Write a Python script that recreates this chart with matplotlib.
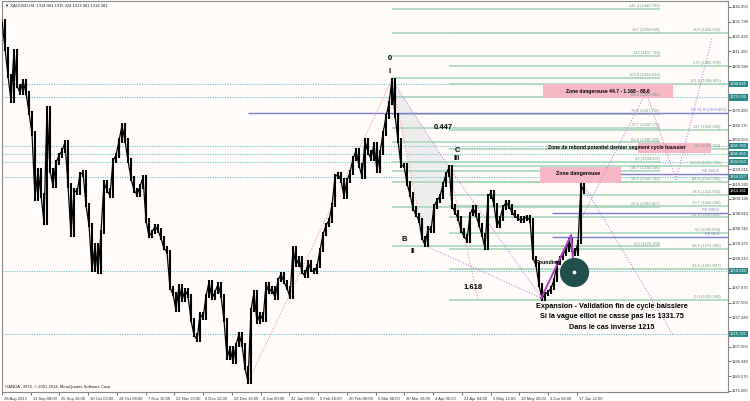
import numpy as np
import matplotlib.pyplot as plt
import matplotlib.transforms as mtransforms
from matplotlib.patches import Rectangle, Polygon

plt.rcParams['font.family'] = ['Liberation Sans', 'DejaVu Sans']

# XAUUSD H4 closes (one value per bar)
closes = [
    1432.2, 1412.9, 1394.3, 1377.1, 1411.6, 1387.4, 1382.6, 1390.9, 1382.6, 1368.8,
    1354.4, 1309.6, 1328.9, 1311.6, 1293.0, 1371.6, 1328.9, 1318.5, 1334.4, 1339.2,
    1342.6, 1348.2, 1318.5, 1284.1, 1315.1, 1313.7, 1326.1, 1327.5, 1304.8, 1291.0,
    1260.0, 1277.2, 1258.6, 1286.2, 1320.6, 1315.1, 1311.6, 1335.8, 1339.2, 1349.5,
    1359.9, 1349.5, 1335.8, 1323.4, 1315.1, 1312.3, 1317.8, 1324.0, 1294.4, 1283.4,
    1286.2, 1290.3, 1287.5, 1282.0, 1275.1, 1272.4, 1247.6, 1243.4, 1232.4, 1248.9,
    1239.3, 1246.2, 1242.1, 1225.5, 1215.2, 1211.7, 1229.7, 1226.9, 1242.1, 1251.7,
    1240.7, 1244.8, 1250.3, 1242.1, 1225.5, 1199.3, 1206.2, 1196.6, 1208.3, 1215.9,
    1208.3, 1192.4, 1182.8, 1232.4, 1244.8, 1224.1, 1229.7, 1225.5, 1250.3, 1244.8,
    1247.6, 1240.7, 1253.1, 1257.2, 1251.7, 1247.6, 1241.4, 1275.1, 1263.4, 1268.2,
    1258.6, 1255.8, 1265.5, 1260.0, 1258.6, 1262.7, 1273.8, 1284.8, 1291.0, 1294.4,
    1304.8, 1324.7, 1326.1, 1322.0, 1311.0, 1322.0, 1327.5, 1337.1, 1342.6, 1332.3,
    1324.7, 1349.5, 1341.3, 1337.1, 1346.8, 1328.9, 1341.3, 1354.4, 1366.1, 1375.7,
    1391.5, 1366.8, 1349.5, 1332.3, 1332.3, 1319.9, 1312.3, 1302.7, 1297.9, 1294.4,
    1282.0, 1277.5, 1288.9, 1287.5, 1304.1, 1308.2, 1311.0, 1319.2, 1326.1, 1331.0,
    1304.1, 1299.9, 1295.8, 1287.5, 1283.4, 1280.6, 1298.6, 1303.4, 1297.9, 1291.0,
    1284.1, 1275.1, 1311.0, 1313.7, 1304.8, 1290.3, 1295.8, 1303.4, 1306.8, 1304.1,
    1299.9, 1297.2, 1295.8, 1294.4, 1295.8, 1296.5, 1294.4, 1268.2, 1263.4, 1249.6,
    1240.5, 1243.4, 1244.8, 1247.6, 1253.1, 1264.8, 1268.2, 1271.0, 1273.8, 1280.6,
    1273.8, 1271.0, 1279.3, 1318.5, 1314.4,
]

date_labels = ["28 Aug 2013", "11 Sep 08:00", "25 Sep 16:00", "10 Oct 00:00", "24 Oct 08:00",
               "7 Nov 16:00", "22 Nov 00:00", "6 Dec 12:00", "22 Dec 16:00", "8 Jan 00:00",
               "22 Jan 08:00", "5 Feb 16:00", "20 Feb 00:00", "6 Mar 08:00", "20 Mar 16:00",
               "4 Apr 00:00", "21 Apr 04:00", "5 May 12:00", "19 May 20:00", "3 Jun 04:00",
               "17 Jun 12:00"]

# right scale, the ones hidden under the coloured price boxes are left out
price_ticks = [1441.855, 1431.790, 1421.420, 1411.355, 1400.985,
               1370.485, 1360.115, 1350.050, 1329.615, 1319.245, 1309.180,
               1298.810, 1288.745, 1278.375, 1268.310, 1247.875, 1237.505,
               1227.440, 1207.005, 1196.940, 1186.570, 1176.505]

# retracement drawn from the March top (I) down to wave II
fibA_pct = ["0.0", "23.6", "38.2", "44.7", "50", "61.8", "70.7", "78.6", "88.6",
            "100.0", "113", "127", "141.4"]
fibA_price = [1276.382, 1303.817, 1320.789, 1328.346, 1334.507, 1348.225, 1358.575,
              1367.755, 1379.380, 1392.632, 1407.745, 1424.020, 1440.760]

# expansion from the June low
fibB_pct = ["0.0", "23.6", "38.2", "50", "61.8", "70.7", "78.6", "88.6", "100.0",
            "113", "127", "161.8", "175", "200"]
fibB_price = [1239.390, 1261.097, 1274.894, 1285.558, 1296.411, 1304.638, 1311.941,
              1321.186, 1331.726, 1343.742, 1356.684, 1388.855, 1400.978, 1424.062]

fe_names = ["FE 61.8", "FE 100.0", "FE 161.8"]
fe_price = [1282.9, 1299.5, 1326.5]

pivot_lines = [1388.821, 1379.330, 1345.760, 1340.465, 1334.550, 1324.227, 1259.320, 1215.725]

last_price = 1314.381

bg = '#fffcfa'
green = '#a9d6bb'
green_txt = '#6f9f80'
blue = '#7a7cd0'
cyan = '#6cc0c6'
salmon = '#f29a8e'
violet = '#cc7ee0'

fig = plt.figure(figsize=(7.5, 4.01), dpi=100, facecolor='white')
ax = fig.add_axes([2 / 750, 9 / 401, 726 / 750, 391 / 401])
ax.set_facecolor(bg)

n = len(closes)
x = np.arange(n)
c = np.array(closes)
ax.set_xlim(0, 242)
ax.set_ylim(1175.8, 1446.0)

# shaded wave triangle
ax.add_patch(Polygon([(130, 1391.5), (149, 1331.0), (141, 1277.5)], closed=True,
                     facecolor='#eeeeee', edgecolor='none', zorder=1))

# pivot lines (dotted, full width)
for p in pivot_lines:
    ax.axhline(p, color=cyan, lw=0.8, ls=(0, (1, 1.2)), zorder=2)

# fib A
for pct, p in zip(fibA_pct, fibA_price):
    ax.hlines(p, 130, 219.3, color=green, lw=1.2, zorder=2)
    ax.text(219.3, p + 0.6, f"{pct} ({p:.3f})", fontsize=3, color=green_txt,
            ha='right', va='bottom', zorder=6)

# fib B
for pct, p in zip(fibB_pct, fibB_price):
    ax.hlines(p, 149, 242, color=green, lw=1.2, zorder=2)
    ax.text(239.5, p + 0.6, f"{pct} ({p:.3f})", fontsize=3, color=green_txt,
            ha='right', va='bottom', zorder=6)

# FE lines
for name, p in zip(fe_names, fe_price):
    ax.hlines(p, 183.3, 242, color=blue, lw=1.0, zorder=3)
    ax.text(239, p + 0.6, name, fontsize=3, color=blue, ha='right', va='bottom', zorder=6)
ax.hlines(1368.6, 82, 242, color=blue, lw=1.0, zorder=3)
ax.text(241.5, 1368.6 + 0.6, "FE 61.8 (1369.850)", fontsize=3, color=blue,
        ha='right', va='bottom', zorder=6)

# candles as bars
lo = np.minimum(c[:-1], c[1:])
hi = np.maximum(c[:-1], c[1:])
ax.vlines(x[1:], lo - 1.5, hi + 1.5, color='black', lw=1.5, zorder=5)
ax.plot(x, c, color='black', lw=0.9, zorder=5)

# wave lines
def dotted(p0, p1, col):
    ax.plot([p0[0], p1[0]], [p0[1], p1[1]], color=col, lw=0.8, ls=(0, (1, 1.5)), zorder=4)

dotted((82, 1182.8), (130, 1391.5), salmon)
dotted((130, 1391.5), (141, 1277.0), salmon)
dotted((149, 1331.0), (158.7, 1239.4), salmon)
dotted((130, 1391.5), (149, 1331.0), violet)
dotted((149, 1331.0), (180, 1240.5), violet)
dotted((141, 1277.0), (180, 1240.5), violet)
dotted((194, 1318.5), (223.7, 1215.2), violet)
# projected path on the right
proj = [(193.7, 1298.1), (214.7, 1383.1), (224.7, 1322.3), (236.7, 1420.4)]
for a, b in zip(proj[:-1], proj[1:]):
    dotted(a, b, violet)

ax.plot([179.7, 189.7, 190.7], [1240.5, 1284.3, 1258.8], color='#b43cc4', lw=1.4, zorder=6)
ax.scatter([190.7], [1258.8], s=400, color='#1f4f4a', zorder=7)
ax.scatter([190.7], [1258.8], s=3, color='white', zorder=8)

# zones
ax.add_patch(Rectangle((180.3, 1379.0), 43.4, 9.7, facecolor='#f6b8c4', edgecolor='none', zorder=3))
ax.text(202, 1383.8, "Zone dangereuse 44.7 - 1.168 - 88.6", fontsize=3.6, weight='bold',
        ha='center', va='center', zorder=7)
ax.add_patch(Rectangle((212, 1341.0), 24.3, 6.9, facecolor='#f6b8c4', edgecolor='none', zorder=3))
ax.text(182, 1345.1, "Zone de rebond potentiel dernier segment cycle haussier", fontsize=3.6,
        weight='bold', ha='left', va='center', zorder=7)
ax.add_patch(Rectangle((179.3, 1320.2), 27, 11.1, facecolor='#f6b8c4', edgecolor='none', zorder=3))
ax.text(192, 1326.5, "Zone dangereuse", fontsize=3.8, weight='bold', ha='center',
        va='center', zorder=7)

# wave labels
for s, bx, py in [("0", 129.3, 1406.6), ("I", 129.3, 1397.6), ("B", 134, 1281.5),
                  ("II", 137, 1273.2), ("C", 151.7, 1343.0), ("III", 151.7, 1337.5),
                  ("0.447", 147, 1358.9), ("1.618", 157, 1247.7)]:
    ax.text(bx, py, s, fontsize=5.5, weight='bold', ha='center', va='center', zorder=7)
ax.text(182, 1265, "Rounding", fontsize=3.8, weight='bold', ha='center', va='center', zorder=7)

for s, py in [("Expansion - Validation fin de cycle baissiere", 1234.6),
              ("Si la vague elliot ne casse pas les 1331.75", 1228.3),
              ("Dans le cas inverse 1215", 1220.7)]:
    ax.text(203.3, py, s, fontsize=5.2, weight='bold', ha='center', va='center', zorder=7)

# axes / ticks
ax.yaxis.tick_right()
ax.set_yticks(price_ticks)
ax.set_yticklabels([f"{v:.3f}" for v in price_ticks])
ax.tick_params(axis='y', labelsize=3, length=2, width=0.5, pad=1, colors='#333333')
tick_x = np.arange(len(date_labels)) * 9.583
ax.set_xticks(tick_x)
ax.set_xticklabels([])
ax.tick_params(axis='x', length=2, width=0.5, colors='#333333')
xt = mtransforms.blended_transform_factory(ax.transData, ax.transAxes)
for tx, lab in zip(tick_x, date_labels):
    ax.text(tx + 0.6, -0.012, lab, transform=xt, fontsize=3, ha='left', va='top',
            color='#333333', clip_on=False)
for sp in ax.spines.values():
    sp.set_color('#888888')
    sp.set_linewidth(0.8)

# highlighted price labels
yt = mtransforms.blended_transform_factory(ax.transAxes, ax.transData)
for p in pivot_lines:
    ax.text(1.003, p, f"{p:.3f}", transform=yt, fontsize=3, color='white', ha='left',
            va='center', clip_on=False, zorder=9,
            bbox=dict(boxstyle='square,pad=0.25', facecolor='#2d8a8a', edgecolor='none'))
ax.text(1.003, last_price, f"{last_price:.3f}", transform=yt, fontsize=3, color='white',
        ha='left', va='center', clip_on=False, zorder=9,
        bbox=dict(boxstyle='square,pad=0.25', facecolor='black', edgecolor='none'))

ax.text(0.004, 0.993, "\u25bc XAUUSD,H4  1314.001 1315.324 1313.941 1314.381", transform=ax.transAxes,
        fontsize=3, ha='left', va='top', color='#222222')
ax.text(0.004, 0.008, "OANDA - MT4, \u00a9 2001-2014, MetaQuotes Software Corp.", transform=ax.transAxes,
        fontsize=3, ha='left', va='bottom', color='#222222')

fig.savefig('out.png', dpi=100, facecolor='white')
